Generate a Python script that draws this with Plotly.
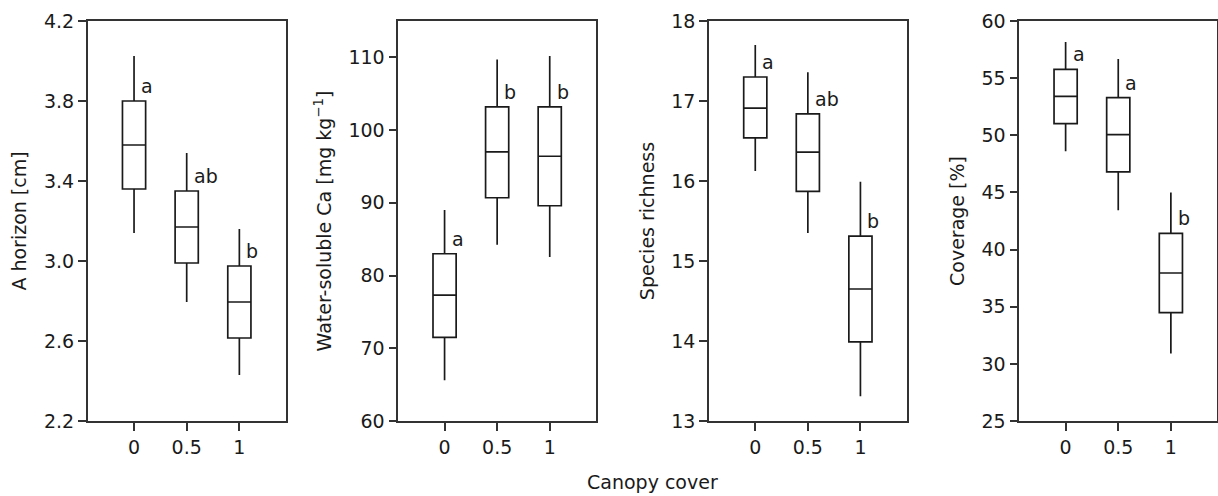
import plotly.graph_objects as go
from plotly.subplots import make_subplots

categories = ["0", "0.5", "1"]

# A horizon [cm]
a_low = [3.14, 2.795, 2.43]
a_q1 = [3.36, 2.99, 2.615]
a_med = [3.58, 3.17, 2.795]
a_q3 = [3.80, 3.35, 2.975]
a_high = [4.025, 3.54, 3.16]
a_letters = ["a", "ab", "b"]

# Water-soluble Ca [mg kg-1]
ca_low = [65.6, 84.25, 82.55]
ca_q1 = [71.5, 90.7, 89.6]
ca_med = [77.3, 97.0, 96.4]
ca_q3 = [83.0, 103.2, 103.2]
ca_high = [89.0, 109.7, 110.2]
ca_letters = ["a", "b", "b"]

# Species richness
sr_low = [16.125, 15.35, 13.31]
sr_q1 = [16.54, 15.87, 13.99]
sr_med = [16.91, 16.36, 14.65]
sr_q3 = [17.30, 16.84, 15.31]
sr_high = [17.70, 17.36, 15.99]
sr_letters = ["a", "ab", "b"]

# Coverage [%]
cv_low = [48.6, 43.44, 30.9]
cv_q1 = [51.02, 46.8, 34.48]
cv_med = [53.41, 50.06, 37.95]
cv_q3 = [55.77, 53.3, 41.42]
cv_high = [58.16, 56.67, 45.0]
cv_letters = ["a", "a", "b"]

panels = [
    dict(low=a_low, q1=a_q1, med=a_med, q3=a_q3, high=a_high, letters=a_letters,
         title="A horizon [cm]", rng=[2.2, 4.2], dtick=0.4, fmt=".1f"),
    dict(low=ca_low, q1=ca_q1, med=ca_med, q3=ca_q3, high=ca_high, letters=ca_letters,
         title="Water-soluble Ca [mg kg<sup>−1</sup>]", rng=[60, 115], dtick=10, fmt="d"),
    dict(low=sr_low, q1=sr_q1, med=sr_med, q3=sr_q3, high=sr_high, letters=sr_letters,
         title="Species richness", rng=[13, 18], dtick=1, fmt="d"),
    dict(low=cv_low, q1=cv_q1, med=cv_med, q3=cv_q3, high=cv_high, letters=cv_letters,
         title="Coverage [%]", rng=[25, 60], dtick=5, fmt="d"),
]

W, H = 1218, 496
domains_px = [(87.7, 285.7), (398.3, 596.0), (709.0, 906.7), (1019.3, 1217.2)]

FONT = "DejaVu Sans"
INK = "#1a1a1a"
FS = 19

fig = make_subplots(rows=1, cols=4)
xpos = list(range(len(categories)))

for i, p in enumerate(panels):
    col = i + 1
    fig.add_trace(go.Box(
        x=xpos, q1=p["q1"], median=p["med"], q3=p["q3"],
        lowerfence=p["low"], upperfence=p["high"],
        width=0.44, whiskerwidth=0, boxpoints=False,
        fillcolor="rgba(255,255,255,0)",
        line=dict(color=INK, width=1.7),
        showlegend=False, hoverinfo="skip",
    ), row=1, col=col)
    xref = "x" if i == 0 else f"x{col}"
    yref = "y" if i == 0 else f"y{col}"
    for j, t in enumerate(p["letters"]):
        fig.add_annotation(x=xpos[j], y=p["q3"][j], xref=xref, yref=yref,
                           text=t, showarrow=False, xanchor="left", yanchor="middle",
                           xshift=5, yshift=15,
                           font=dict(family=FONT, size=FS, color=INK))
    d0, d1 = domains_px[i]
    fig.update_xaxes(domain=[d0 / W, d1 / W], range=[-0.88, 2.88],
                     tickmode="array", tickvals=xpos, ticktext=categories,
                     showline=True, mirror=True, linecolor="#333333", linewidth=1.6,
                     ticks="outside", ticklen=8, tickwidth=1.5, tickcolor="#333333",
                     showgrid=False, zeroline=False,
                     tickfont=dict(family=FONT, size=FS, color=INK),
                     row=1, col=col)
    fig.update_yaxes(range=p["rng"], dtick=p["dtick"], tick0=p["rng"][0], tickformat=p["fmt"],
                     showline=True, mirror=True, linecolor="#333333", linewidth=1.6,
                     ticks="outside", ticklen=8, tickwidth=1.5, tickcolor="#333333",
                     showgrid=False, zeroline=False,
                     tickfont=dict(family=FONT, size=FS, color=INK),
                     title=dict(text=p["title"], font=dict(family=FONT, size=FS, color=INK), standoff=12),
                     row=1, col=col)

fig.add_annotation(x=652 / W, y=-0.153, xref="paper", yref="paper", text="Canopy cover",
                   showarrow=False, xanchor="center", yanchor="middle",
                   font=dict(family=FONT, size=FS, color=INK))

fig.update_layout(width=W, height=H, margin=dict(l=0, r=0, t=21, b=75),
                  plot_bgcolor="white", paper_bgcolor="white",
                  font=dict(family=FONT, size=FS, color=INK))

fig.write_html("out.html", config={"displayModeBar": False},
               post_script="document.body.style.margin='0';document.body.style.overflow='hidden';")
